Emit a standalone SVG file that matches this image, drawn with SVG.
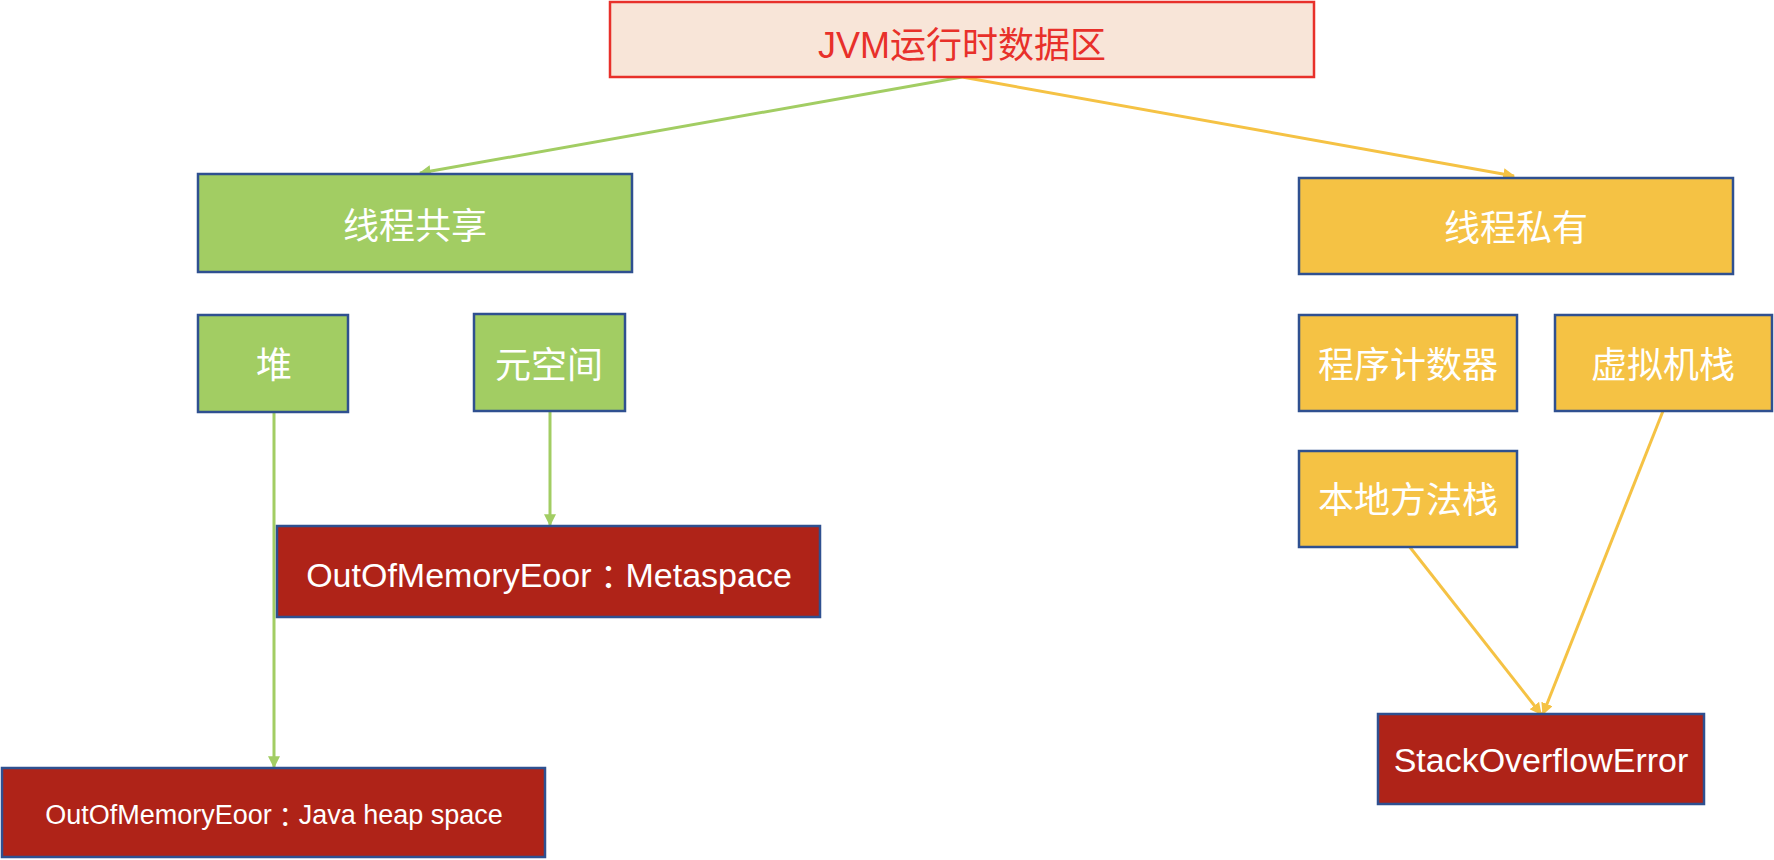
<svg xmlns="http://www.w3.org/2000/svg" width="1774" height="860" viewBox="0 0 1774 860">
<style>
.box{stroke:#2F5090;stroke-width:2.5}
.g{fill:#A2CD63}
.y{fill:#F5C244}
.r{fill:#AF2318}
.t{font-family:"Liberation Sans","Noto Sans CJK SC",sans-serif;fill:#fff;text-anchor:middle;dominant-baseline:central}
.cn{font-size:36px}
.col{font-family:"Noto Sans CJK TC",sans-serif}
.lg{stroke:#A2CD63;stroke-width:3;fill:none}
.ly{stroke:#F5C244;stroke-width:3;fill:none}
</style>
<defs>
<marker id="ag" viewBox="0 0 10 10" refX="9" refY="5" markerWidth="4" markerHeight="4" orient="auto" markerUnits="strokeWidth"><path d="M0,0 L10,5 L0,10 z" fill="#A2CD63"/></marker>
<marker id="ay" viewBox="0 0 10 10" refX="9" refY="5" markerWidth="4" markerHeight="4" orient="auto" markerUnits="strokeWidth"><path d="M0,0 L10,5 L0,10 z" fill="#F5C244"/></marker>
</defs>
<g id="connectors">
<line class="lg" x1="962" y1="77" x2="420" y2="173" marker-end="url(#ag)"/>
<line class="ly" x1="962" y1="77" x2="1514" y2="176" marker-end="url(#ay)"/>
<line class="lg" x1="274" y1="412" x2="274" y2="767" marker-end="url(#ag)"/>
<line class="lg" x1="550" y1="411" x2="550" y2="525" marker-end="url(#ag)"/>
<line class="ly" x1="1409" y1="546" x2="1541" y2="714" marker-end="url(#ay)"/>
<line class="ly" x1="1663" y1="411" x2="1543" y2="714" marker-end="url(#ay)"/>
</g>
<g id="jvm">
<rect x="610" y="2" width="704" height="75" fill="#F8E5D8" stroke="#E8302A" stroke-width="2.5"/>
<text class="t cn" x="962" y="45" style="fill:#E8302A">JVM运行时数据区</text>
</g>
<g id="shared">
<rect class="box g" x="198" y="174" width="434" height="98"/>
<text class="t cn" x="415" y="226">线程共享</text>
</g>
<g id="private">
<rect class="box y" x="1299" y="178" width="434" height="96"/>
<text class="t cn" x="1516" y="228">线程私有</text>
</g>
<g id="heap">
<rect class="box g" x="198" y="315" width="150" height="97"/>
<text class="t cn" x="274" y="365">堆</text>
</g>
<g id="metaspace">
<rect class="box g" x="474" y="314" width="151" height="97"/>
<text class="t cn" x="549" y="365">元空间</text>
</g>
<g id="pc">
<rect class="box y" x="1299" y="315" width="218" height="96"/>
<text class="t cn" x="1408" y="365">程序计数器</text>
</g>
<g id="vmstack">
<rect class="box y" x="1555" y="315" width="217" height="96"/>
<text class="t cn" x="1663" y="365">虚拟机栈</text>
</g>
<g id="native">
<rect class="box y" x="1299" y="451" width="218" height="96"/>
<text class="t cn" x="1408" y="500">本地方法栈</text>
</g>
<g id="oom-meta">
<rect class="box r" x="277" y="526" width="543" height="91"/>
<text class="t" x="549" y="575" font-size="34">OutOfMemoryEoor<tspan class="col">：</tspan>Metaspace</text>
</g>
<g id="oom-heap">
<rect class="box r" x="2" y="768" width="543" height="89"/>
<text class="t" x="274" y="815" font-size="27">OutOfMemoryEoor<tspan class="col">：</tspan>Java heap space</text>
</g>
<g id="soe">
<rect class="box r" x="1378" y="714" width="326" height="90"/>
<text class="t" x="1541" y="760" font-size="34">StackOverflowError</text>
</g>
</svg>
